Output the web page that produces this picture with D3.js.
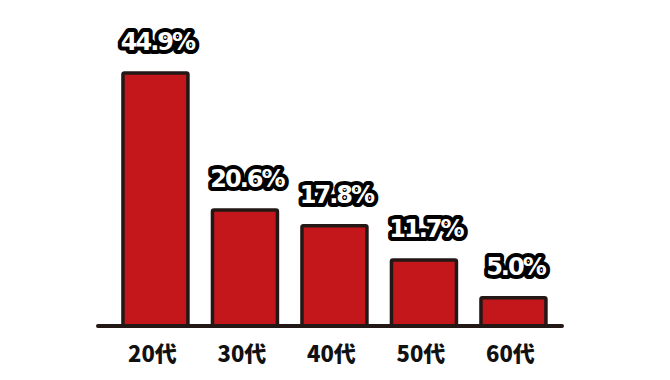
<!DOCTYPE html>
<html>
<head>
<meta charset="utf-8">
<script src="https://cdn.jsdelivr.net/npm/d3@7"></script>
<style>
  body { margin: 0; background: #fff; }
  svg { display: block; }
</style>
</head>
<body>
<svg id="chart" width="670" height="380"></svg>
<script>
// data
var categories = ["20代", "30代", "40代", "50代", "60代"];
var values = [44.9, 20.6, 17.8, 11.7, 5.0];

var svg = d3.select("#chart"),
	width = +svg.attr("width"),
	height = +svg.attr("height");

var baseY = 326;

var x = d3.scaleBand()
	.domain(categories)
	.range([110.7, 558.2])
	.paddingInner(0.274)
	.paddingOuter(0.137);

var y = d3.scaleLinear()
	.domain([0, 44.9])
	.range([baseY, 73]);

// bars
svg.selectAll(".bar")
	.data(values)
	.enter().append("rect")
	.attr("class", "bar")
	.attr("x", function(d, i) { return x(categories[i]); })
	.attr("y", function(d) { return y(d); })
	.attr("width", x.bandwidth())
	.attr("height", function(d) { return baseY - y(d); })
	.attr("rx", 1.5)
	.style("fill", "#c4171b")
	.style("stroke", "#231815")
	.style("stroke-width", 3.5);

// baseline
svg.append("line")
	.attr("x1", 98)
	.attr("x2", 562)
	.attr("y1", baseY)
	.attr("y2", baseY)
	.style("stroke", "#231815")
	.style("stroke-width", 4)
	.style("stroke-linecap", "round");

// value labels, outlined
svg.selectAll(".val")
	.data(values)
	.enter().append("text")
	.attr("class", "val")
	.attr("x", function(d, i) { return x(categories[i]) + x.bandwidth() / 2 + 2; })
	.attr("y", function(d) { return y(d) - 23; })
	.attr("text-anchor", "middle")
	.style("font-family", "'DejaVu Sans', sans-serif")
	.style("font-weight", "bold")
	.style("font-size", "24px")
	.style("letter-spacing", "-2px")
	.style("paint-order", "stroke")
	.style("stroke", "#000")
	.style("stroke-width", 8)
	.style("stroke-linejoin", "round")
	.style("fill", "#fff")
	.text(function(d) { return d.toFixed(1) + "%"; });

// category labels
svg.selectAll(".cat")
	.data(categories)
	.enter().append("text")
	.attr("class", "cat")
	.attr("x", function(d) { return x(d) + x.bandwidth() / 2 - 3; })
	.attr("y", 362)
	.attr("text-anchor", "middle")
	.style("font-family", "'Noto Sans CJK JP', sans-serif")
	.style("font-weight", "900")
	.style("font-size", "22px")
	.style("fill", "#111")
	.text(function(d) { return d; });
</script>
</body>
</html>
